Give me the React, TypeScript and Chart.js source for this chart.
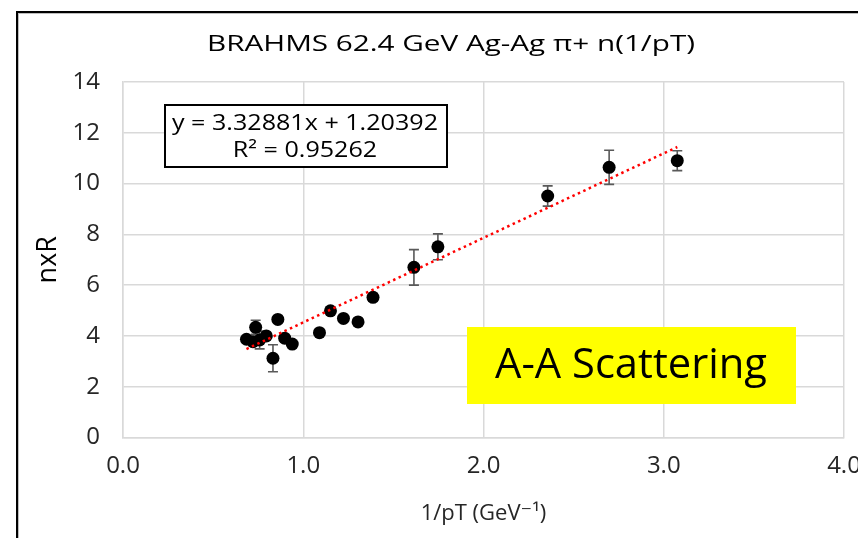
import React, { useEffect, useRef } from "react";
import { Chart, registerables } from "chart.js";

Chart.register(...registerables);

// Measured nxR vs 1/pT points with their uncertainties
const xValues = [0.685, 0.721, 0.736, 0.758, 0.795, 0.832, 0.859, 0.897, 0.939, 1.09, 1.151, 1.223, 1.304, 1.387, 1.614, 1.747, 2.356, 2.697, 3.075];
const yValues = [3.87, 3.77, 4.34, 3.84, 4.0, 3.12, 4.65, 3.91, 3.68, 4.13, 4.99, 4.69, 4.55, 5.52, 6.7, 7.51, 9.51, 10.64, 10.9];
const yErrors = [0.1, 0.1, 0.28, 0.35, 0.1, 0.53, 0.1, 0.1, 0.1, 0.1, 0.1, 0.1, 0.1, 0.15, 0.7, 0.51, 0.4, 0.67, 0.39];

// Linear fit
const slope = 3.32881;
const intercept = 1.20392;
const rSquared = 0.95262;

const chartTitle = "BRAHMS 62.4 GeV Ag-Ag \u03c0+ n(1/pT)";
const xTitle = "1/pT (GeV\u207b\u00b9)";
const yTitle = "nxR";
const badgeText = "A-A Scattering";
const equationText = `y = ${slope}x + ${intercept}`;
const rSquaredText = `R\u00b2 = ${rSquared}`;

const FONT = '"Open Sans", "DejaVu Sans", sans-serif';
const TEXT = "#262626";

function drawFitted(
  ctx: CanvasRenderingContext2D,
  text: string,
  cx: number,
  cy: number,
  width: number,
  size: number,
  color: string
) {
  ctx.save();
  ctx.font = `${size}px ${FONT}`;
  const w = ctx.measureText(text).width;
  ctx.translate(cx, cy);
  ctx.scale(width / w, 1);
  ctx.textAlign = "center";
  ctx.textBaseline = "middle";
  ctx.fillStyle = color;
  ctx.fillText(text, 0, 0);
  ctx.restore();
}

const decorations = {
  id: "decorations",
  beforeDraw(chart: any) {
    const { ctx, width, height } = chart;
    ctx.save();
    ctx.fillStyle = "#ffffff";
    ctx.fillRect(0, 0, width, height);
    // slide frame
    ctx.fillStyle = "#bdbdbd";
    ctx.fillRect(18, 13, width - 18, 1);
    ctx.fillRect(18, 13, 1, height - 13);
    ctx.fillStyle = "#000000";
    ctx.fillRect(16, 11, width - 16, 2);
    ctx.fillRect(16, 11, 2, height - 11);
    ctx.restore();
  },
  beforeDatasetsDraw(chart: any) {
    const { ctx } = chart;
    const xs = chart.scales.x;
    const ys = chart.scales.y;
    ctx.save();
    ctx.strokeStyle = "#595959";
    ctx.lineWidth = 1.6;
    for (let i = 0; i < xValues.length; i++) {
      const px = xs.getPixelForValue(xValues[i]);
      const top = ys.getPixelForValue(yValues[i] + yErrors[i]);
      const bot = ys.getPixelForValue(yValues[i] - yErrors[i]);
      ctx.beginPath();
      ctx.moveTo(px, top);
      ctx.lineTo(px, bot);
      ctx.moveTo(px - 5, top);
      ctx.lineTo(px + 5, top);
      ctx.moveTo(px - 5, bot);
      ctx.lineTo(px + 5, bot);
      ctx.stroke();
    }
    ctx.restore();
  },
  afterDraw(chart: any) {
    const { ctx } = chart;
    // chart title
    drawFitted(ctx, chartTitle, 451, 45, 488, 22, "#000000");

    // trendline equation box
    ctx.save();
    ctx.fillStyle = "#ffffff";
    ctx.fillRect(165, 105, 282, 62);
    ctx.strokeStyle = "#000000";
    ctx.lineWidth = 2;
    ctx.strokeRect(165, 105, 282, 62);
    ctx.restore();
    ctx.save();
    ctx.font = `21px ${FONT}`;
    const eqW = ctx.measureText(equationText).width;
    const rW = ctx.measureText(rSquaredText).width;
    ctx.restore();
    const k = 266 / eqW;
    drawFitted(ctx, equationText, 305, 124, 266, 21, "#000000");
    drawFitted(ctx, rSquaredText, 305, 151, rW * k, 21, "#000000");

    // yellow label
    ctx.save();
    ctx.fillStyle = "#ffff00";
    ctx.fillRect(467, 327, 329, 77);
    ctx.restore();
    drawFitted(ctx, badgeText, 631, 366, 272, 42, "#000000");
  },
};

export default function App() {
  const canvasRef = useRef<HTMLCanvasElement | null>(null);

  useEffect(() => {
    const canvas = canvasRef.current;
    if (!canvas) return;
    const points = xValues.map((x, i) => ({ x, y: yValues[i] }));
    const xMin = Math.min(...xValues);
    const xMax = Math.max(...xValues);
    const fitLine = [
      { x: xMin, y: slope * xMin + intercept },
      { x: xMax, y: slope * xMax + intercept },
    ];

    const chart = new Chart(canvas, {
      type: "scatter",
      data: {
        datasets: [
          {
            type: "line",
            label: "Linear fit",
            data: fitLine,
            borderColor: "#ff0000",
            borderWidth: 2.5,
            borderDash: [2.5, 3.5],
            borderCapStyle: "butt",
            pointRadius: 0,
            fill: false,
          } as any,
          {
            type: "scatter",
            label: "nxR",
            data: points,
            backgroundColor: "#000000",
            borderColor: "#000000",
            borderWidth: 0,
            pointRadius: 6.5,
            pointHoverRadius: 6.5,
          },
        ],
      },
      options: {
        responsive: false,
        animation: false,
        events: [],
        layout: { padding: { top: 82, right: 14, left: 0, bottom: 0 } },
        plugins: {
          legend: { display: false },
          title: { display: false },
          tooltip: { enabled: false },
        },
        scales: {
          x: {
            type: "linear",
            min: 0,
            max: 4,
            afterFit: (s: any) => {
              s.height = 100.5;
              s.paddingLeft = 0;
              s.paddingRight = 0;
            },
            ticks: {
              stepSize: 1,
              padding: 14,
              color: TEXT,
              font: { family: FONT, size: 24 },
              callback: (v: any) => Number(v).toFixed(1),
            },
            grid: { color: "#d9d9d9", lineWidth: 1.5, drawTicks: false },
            border: { display: true, color: "#d9d9d9", width: 1.5 },
            title: {
              display: true,
              text: xTitle,
              color: TEXT,
              font: { family: FONT, size: 22 },
              padding: { top: 0, bottom: 11 },
            },
          },
          y: {
            type: "linear",
            min: 0,
            max: 14,
            afterFit: (s: any) => {
              s.width = 123;
              s.paddingTop = 0;
              s.paddingBottom = 0;
            },
            ticks: {
              stepSize: 2,
              padding: 23,
              color: TEXT,
              font: { family: FONT, size: 24 },
            },
            grid: { color: "#d9d9d9", lineWidth: 1.5, drawTicks: false },
            border: { display: true, color: "#d9d9d9", width: 1.5 },
            title: {
              display: true,
              text: yTitle,
              color: "#000000",
              font: { family: FONT, size: 27 },
              padding: { top: 32, bottom: 0 },
            },
          },
        },
      },
      plugins: [decorations],
    });

    return () => chart.destroy();
  }, []);

  return (
    <div style={{ position: "fixed", left: 0, top: 0, width: 858, height: 538 }}>
      <canvas ref={canvasRef} width={858} height={538} style={{ width: 858, height: 538, display: "block" }} />
    </div>
  );
}
